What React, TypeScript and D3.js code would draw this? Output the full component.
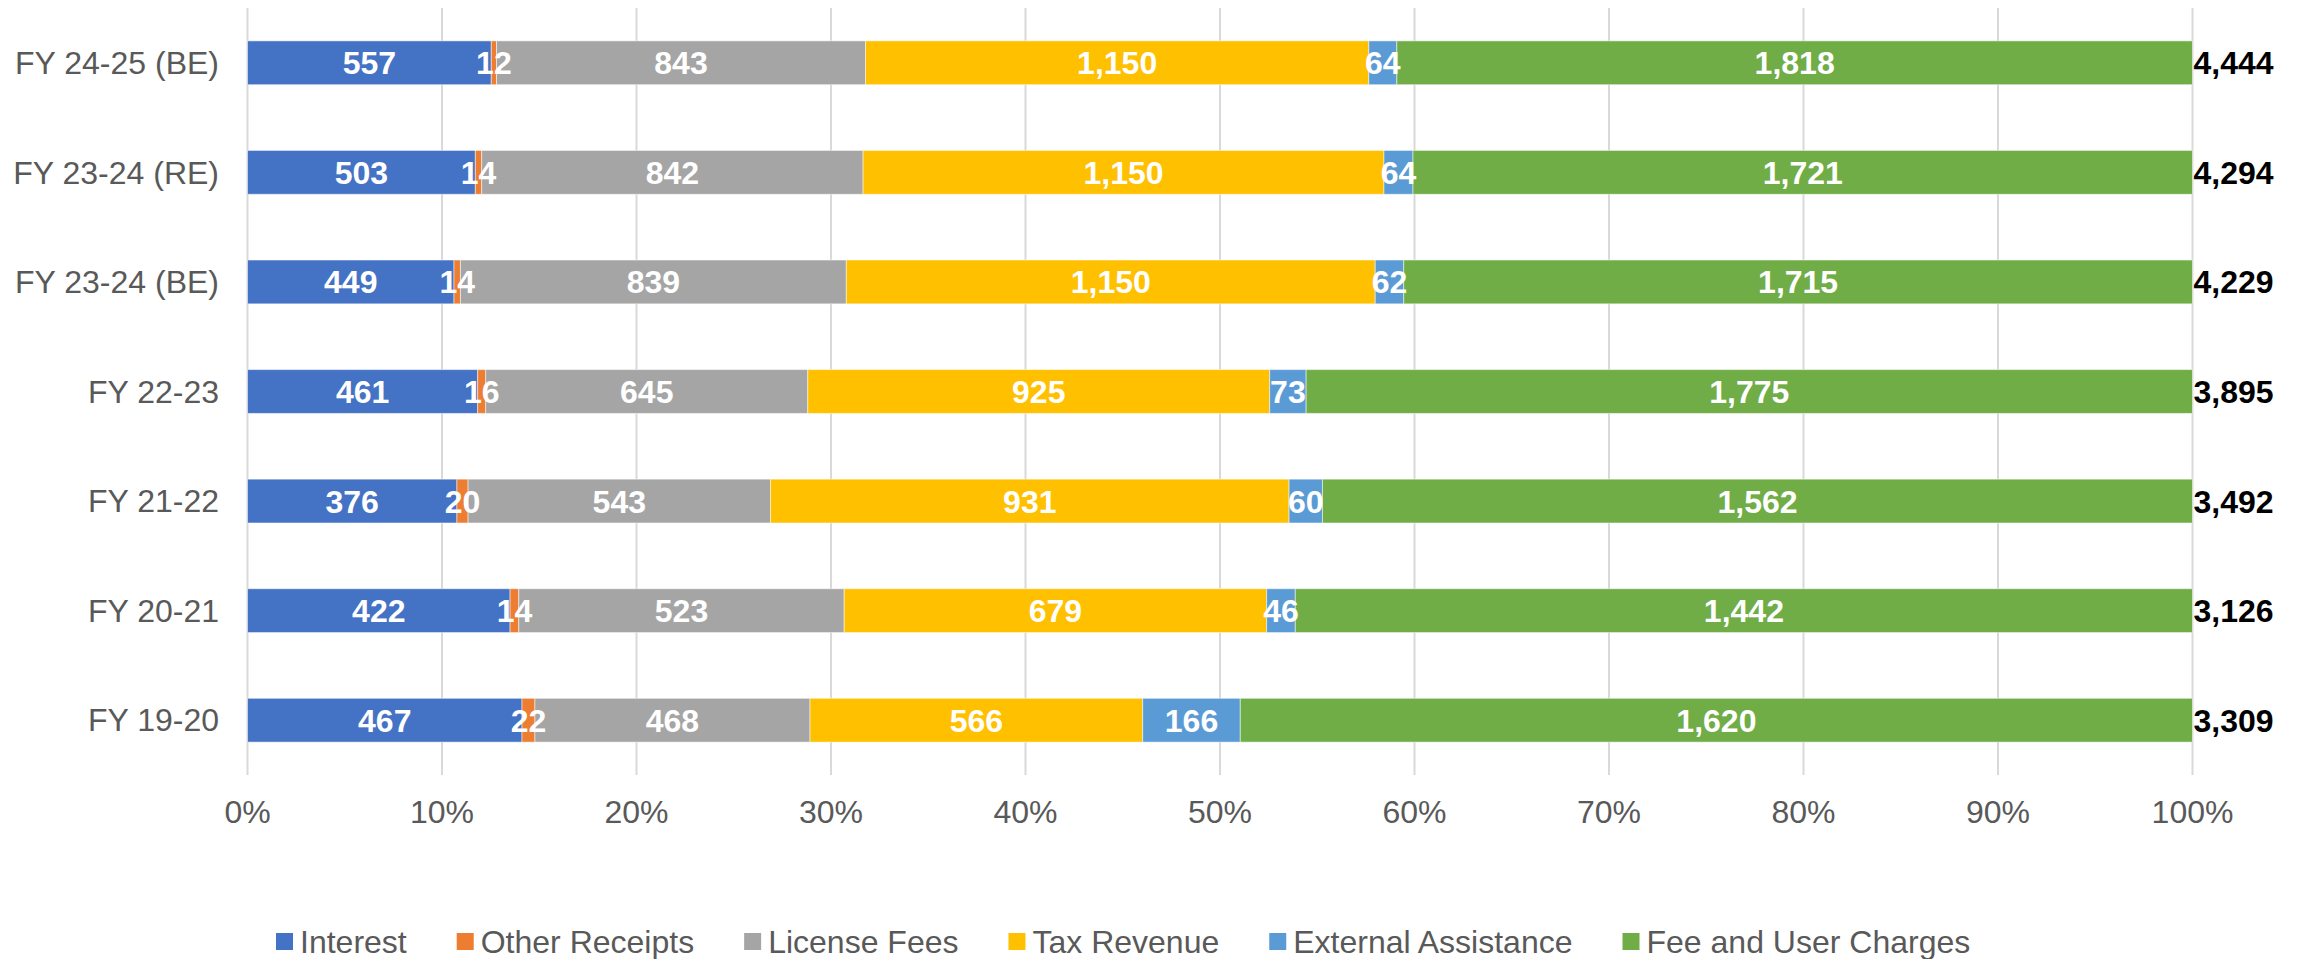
import { useEffect, useRef } from 'react'
import * as d3 from 'd3'

// categories top to bottom as drawn
const years = ['FY 24-25 (BE)', 'FY 23-24 (RE)', 'FY 23-24 (BE)', 'FY 22-23', 'FY 21-22', 'FY 20-21', 'FY 19-20']

const seriesNames = ['Interest', 'Other Receipts', 'License Fees', 'Tax Revenue', 'External Assistance', 'Fee and User Charges']
const seriesColors = ['#4472C4', '#ED7D31', '#A5A5A5', '#FFC000', '#5B9BD5', '#70AD47']

const interest = [557, 503, 449, 461, 376, 422, 467]
const otherReceipts = [12, 14, 14, 16, 20, 14, 22]
const licenseFees = [843, 842, 839, 645, 543, 523, 468]
const taxRevenue = [1150, 1150, 1150, 925, 931, 679, 566]
const externalAssistance = [64, 64, 62, 73, 60, 46, 166]
const feeUserCharges = [1818, 1721, 1715, 1775, 1562, 1442, 1620]

const tickValues = [0, 0.1, 0.2, 0.3, 0.4, 0.5, 0.6, 0.7, 0.8, 0.9, 1]

const W = 2310
const H = 959
const FONT = '"Liberation Sans", Arial, sans-serif'

export default function App() {
  const svgRef = useRef<SVGSVGElement>(null)

  useEffect(() => {
    if (!svgRef.current) return
    const svg = d3.select(svgRef.current)
    svg.selectAll('*').remove()

    const series = [interest, otherReceipts, licenseFees, taxRevenue, externalAssistance, feeUserCharges]
    const rows = years.map((y, i) => {
      const vals = series.map(s => s[i])
      return { year: y, vals, total: d3.sum(vals) }
    })

    const plot = { left: 247.5, right: 2192.5, top: 8, bottom: 775 }

    const x = d3.scaleLinear().domain([0, 1]).range([plot.left, plot.right])
    const y = d3.scaleBand<string>()
      .domain(years)
      .range([plot.top, plot.bottom])
      .paddingInner(0.6)
      .paddingOuter(0.3)

    const fmt = d3.format(',')

    // gridlines
    svg.append('g')
      .selectAll('line')
      .data(tickValues)
      .enter()
      .append('line')
      .attr('x1', d => x(d))
      .attr('x2', d => x(d))
      .attr('y1', plot.top)
      .attr('y2', plot.bottom)
      .attr('stroke', '#d9d9d9')
      .attr('stroke-width', 2)

    // tick labels
    svg.append('g')
      .selectAll('text')
      .data(tickValues)
      .enter()
      .append('text')
      .attr('x', d => x(d))
      .attr('y', 823)
      .attr('text-anchor', 'middle')
      .attr('fill', '#595959')
      .style('font-family', FONT)
      .style('font-size', '32px')
      .text(d => d3.format('.0%')(d))

    // category labels
    svg.append('g')
      .selectAll('text')
      .data(years)
      .enter()
      .append('text')
      .attr('x', 219)
      .attr('y', d => y(d)! + y.bandwidth() / 2)
      .attr('dy', '0.35em')
      .attr('text-anchor', 'end')
      .attr('fill', '#595959')
      .style('font-family', FONT)
      .style('font-size', '32px')
      .text(d => d)

    // stacked segments
    rows.forEach(row => {
      let acc = 0
      const segs = row.vals.map((v, k) => {
        const s = { k, v, x0: acc / row.total, x1: (acc + v) / row.total }
        acc += v
        return s
      })
      const g = svg.append('g')
      const top = y(row.year)!
      g.selectAll('rect')
        .data(segs)
        .enter()
        .append('rect')
        .attr('x', d => x(d.x0))
        .attr('y', top)
        .attr('width', d => x(d.x1) - x(d.x0))
        .attr('height', y.bandwidth())
        .attr('fill', d => seriesColors[d.k])
        .attr('stroke', 'rgba(255,255,255,0.5)')
        .attr('stroke-width', 1)

      g.selectAll('text.val')
        .data(segs)
        .enter()
        .append('text')
        .attr('class', 'val')
        .attr('x', d => (x(d.x0) + x(d.x1)) / 2)
        .attr('y', top + y.bandwidth() / 2)
        .attr('dy', '0.36em')
        .attr('text-anchor', 'middle')
        .attr('fill', '#ffffff')
        .style('font-family', FONT)
        .style('font-size', '32px')
        .style('font-weight', 'bold')
        .text(d => fmt(d.v))

      g.append('text')
        .attr('x', x(1) + 1)
        .attr('y', top + y.bandwidth() / 2)
        .attr('dy', '0.36em')
        .attr('fill', '#000000')
        .style('font-family', FONT)
        .style('font-size', '32px')
        .style('font-weight', 'bold')
        .text(fmt(row.total))
    })

    // legend
    const legend = svg.append('g').attr('transform', 'translate(276, 0)')
    let lx = 0
    seriesNames.forEach((name, i) => {
      const item = legend.append('g').attr('transform', `translate(${lx}, 0)`)
      item.append('rect')
        .attr('x', 0)
        .attr('y', 933)
        .attr('width', 17)
        .attr('height', 17)
        .attr('fill', seriesColors[i])
      const t = item.append('text')
        .attr('x', 24)
        .attr('y', 953)
        .attr('fill', '#595959')
        .style('font-family', FONT)
        .style('font-size', '32px')
        .text(name)
      const w = (t.node() as SVGTextElement).getComputedTextLength()
      lx += 24 + w + 50
    })
  }, [])

  return (
    <svg
      ref={svgRef}
      width={W}
      height={H}
      style={{ position: 'absolute', left: 0, top: 0, background: '#ffffff' }}
    />
  )
}
